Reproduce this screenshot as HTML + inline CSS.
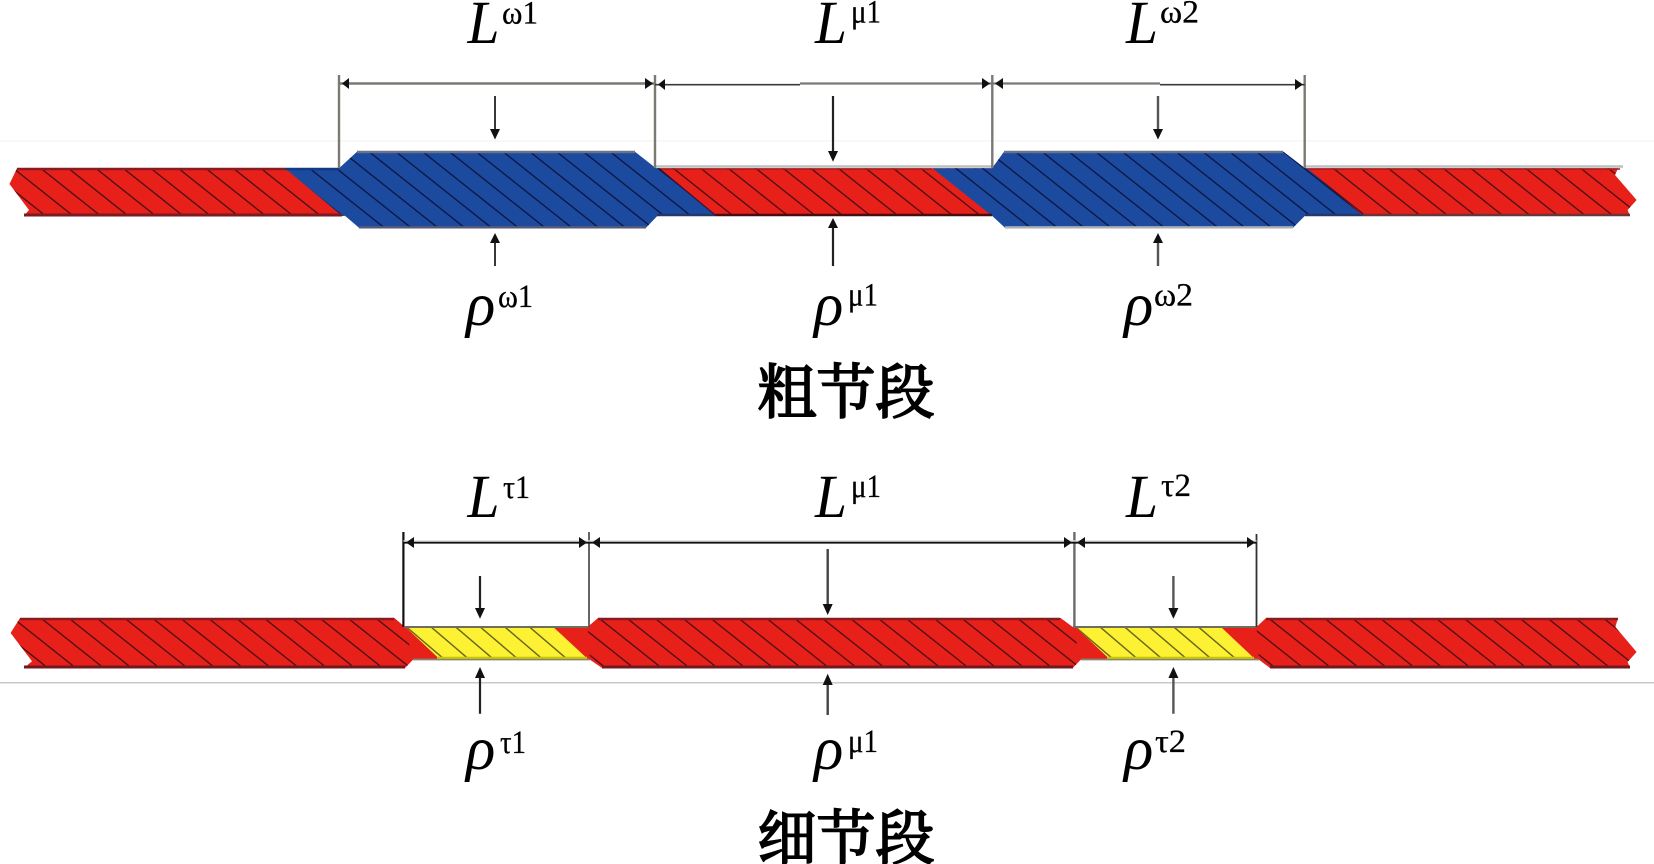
<!DOCTYPE html>
<html><head><meta charset="utf-8"><style>html,body{margin:0;padding:0;background:#fff}svg{display:block}
.L{font:italic 61px "Liberation Serif",serif;fill:#000}
.S{font:33px "Liberation Serif",serif;fill:#000;stroke:#000;stroke-width:.25}
.C{font:400 59px "Noto Serif CJK SC","Liberation Serif",serif;fill:#000;stroke:#000;stroke-width:1.9}
</style></head><body>
<svg width="1654" height="864" viewBox="0 0 1654 864" xmlns="http://www.w3.org/2000/svg">
<defs>
<pattern id="h1" patternUnits="userSpaceOnUse" width="27.5" height="20" patternTransform="translate(39.7 168.3) skewX(51.5)"><rect x="0" y="0" width="2.2" height="20" fill="#1a0a14" fill-opacity=".75"/></pattern>
<pattern id="h2" patternUnits="userSpaceOnUse" width="26.8" height="20" patternTransform="translate(368.3 152) skewX(51.5)"><rect x="0" y="0" width="2.2" height="20" fill="#0a0a30" fill-opacity=".8"/></pattern>
<pattern id="h2b" patternUnits="userSpaceOnUse" width="26.8" height="20" patternTransform="translate(1014.6 152) skewX(51.5)"><rect x="0" y="0" width="2.2" height="20" fill="#0a0a30" fill-opacity=".8"/></pattern>
<pattern id="h3" patternUnits="userSpaceOnUse" width="27.9" height="20" patternTransform="translate(39.7 618) skewX(51.5)"><rect x="0" y="0" width="2.2" height="20" fill="#1a0a14" fill-opacity=".75"/></pattern>
<pattern id="y1" patternUnits="userSpaceOnUse" width="24.6" height="20" patternTransform="translate(430 627) skewX(49.5)"><rect x="0" y="0" width="2.2" height="20" fill="#2a2a10" fill-opacity=".7"/></pattern>
<pattern id="y2" patternUnits="userSpaceOnUse" width="24.6" height="20" patternTransform="translate(1099 627) skewX(49.5)"><rect x="0" y="0" width="2.2" height="20" fill="#2a2a10" fill-opacity=".7"/></pattern>
</defs>
<rect width="1654" height="864" fill="#fff"/>
<rect x="0" y="140.5" width="1654" height="1" fill="#f0f0f0"/>
<rect x="0" y="682" width="1654" height="1.5" fill="#c8c8c8"/>

<!-- top strip -->
<polygon fill="#e8201a" points="17,168.3 656,168.3 1618,168.3 1615,175 1636.6,200 1627.6,210 1630,215.7 24,215.7 29,210 9.5,184"/>
<polygon fill="url(#h1)" points="17,168.3 656,168.3 1618,168.3 1615,175 1636.6,200 1627.6,210 1630,215.7 24,215.7 29,210 9.5,184"/>
<polygon fill="#1b4a9e" points="285,168.3 339,168.3 357,151.7 635,151.7 656,168.3 659,168.3 716,215.7 657.5,215.7 646,227.7 359,227.7 345,215.7 342,215.7"/>
<polygon fill="url(#h2)" points="285,168.3 339,168.3 357,151.7 635,151.7 656,168.3 659,168.3 716,215.7 657.5,215.7 646,227.7 359,227.7 345,215.7 342,215.7"/>
<polygon fill="#1b4a9e" points="932.5,168.3 992,168.3 1004,151.7 1283.5,151.7 1305,168.3 1307,168.3 1363,215.7 1305,215.7 1293,227.7 1005,227.7 992,215.7"/>
<polygon fill="url(#h2b)" points="932.5,168.3 992,168.3 1004,151.7 1283.5,151.7 1305,168.3 1307,168.3 1363,215.7 1305,215.7 1293,227.7 1005,227.7 992,215.7"/>
<g fill="none" stroke-width="2.4">
<path d="M17 169H285" stroke="#8a1a20"/>
<path d="M24 215H342" stroke="#7e1a22" stroke-width="3"/>
<path d="M285 169H339" stroke="#123a80"/>
<path d="M357 152H635M1004 152H1283" stroke="#6a7488"/>
<path d="M359 227.3H646" stroke="#555a78"/>
<path d="M1005 227.3H1293" stroke="#a9acb4"/>
<path d="M656 166.5H992M1305 166.5H1623" stroke="#bdbdbd"/>
<path d="M660 169H932M1307 169H1620" stroke="#a01c20" stroke-width="1.6"/>
<path d="M716 215H992" stroke="#4a0c10"/>
<path d="M1363 215H1630" stroke="#6b3438"/>
<path d="M657 215H716M1305 215H1363" stroke="#24386e"/>
<path d="M659 168.3L716 215.7" stroke="#3a1030" stroke-width="1.2"/>
</g>

<!-- bottom strip -->
<polygon fill="#e8201a" points="20,618 394.4,618 405,627 587.6,627 598,618 1060.6,618 1072.8,627 1256.5,627 1266,618 1618,618 1615.4,627 1636.6,652 1627.6,662 1630,668 1270,668 1259,659.7 1080.7,659.7 1072.8,668 602,668 590,659.7 413,659.7 405,668 24,668 32,661.3 10.6,633"/>
<polygon fill="url(#h3)" points="20,618 394.4,618 405,627 587.6,627 598,618 1060.6,618 1072.8,627 1256.5,627 1266,618 1618,618 1615.4,627 1636.6,652 1627.6,662 1630,668 1270,668 1259,659.7 1080.7,659.7 1072.8,668 602,668 590,659.7 413,659.7 405,668 24,668 32,661.3 10.6,633"/>
<polygon fill="#e8201a" points="405,627 587.6,627 590,659.7 413,659.7"/>
<polygon fill="#e8201a" points="1072.8,627 1256.5,627 1259,659.7 1080.7,659.7"/>
<polygon fill="#fdf133" points="405.5,627 553.3,627 588.3,659.5 440,659.5"/>
<polygon fill="url(#y1)" points="405.5,627 553.3,627 588.3,659.5 440,659.5"/>
<polygon fill="#fdf133" points="1075.5,627 1221,627 1255.4,659.5 1110,659.5"/>
<polygon fill="url(#y2)" points="1075.5,627 1221,627 1255.4,659.5 1110,659.5"/>
<g fill="none" stroke-width="2.4">
<path d="M20 619H394M598 619H1060M1266 619H1618" stroke="#8a1a20"/>
<path d="M24 667H405M602 667H1073M1270 667H1630" stroke="#741820" stroke-width="3"/>
<path d="M405 627H588M1073 627H1257" stroke="#6e6e5a" stroke-width="2"/>
<path d="M413 659.5H590M1081 659.5H1259" stroke="#858570" stroke-width="1.8"/>
<path d="M437 657.8H587M1107 657.8H1254" stroke="#c9c400" stroke-width="2.2"/>
</g>

<!-- dimension lines top -->
<g stroke="#7c7873" stroke-width="2.4" fill="none">
<path d="M339 75V168M655 75V168M992.3 75V168M1304.7 75V168"/>
<path d="M339 83.5H655" stroke-width="2.6"/>
<path d="M655 84.7H800" stroke="#3a3a3a" stroke-width="1.6"/>
<path d="M800 83.5H1160" stroke-width="2.2"/>
<path d="M1160 84.7H1304.7" stroke="#3a3a3a" stroke-width="1.6"/>
</g>
<g fill="#111">
<polygon points="342,83.5 349,78 349,89"/><polygon points="653,83.5 645,78 645,89"/>
<polygon points="658,84.5 665,79 665,90"/><polygon points="990,83.5 982,78 982,89"/>
<polygon points="995,83.5 1003,78 1003,89"/><polygon points="1303,84.5 1295,79 1295,90"/>
</g>
<!-- dimension lines bottom -->
<g stroke="#111" stroke-width="1.8" fill="none">
<path d="M403.4 532V627" stroke-width="2.2"/>
<path d="M589 532V627" stroke="#555"/>
<path d="M1074.4 532V627" stroke="#6a6a6a" stroke-width="2.4"/>
<path d="M1256.5 534V627" stroke="#333"/>
<path d="M403.4 541H1256.5" stroke="#ddd" stroke-width="1.5"/>
<path d="M403.4 542.7H1256.5"/>
</g>
<g fill="#111">
<polygon points="406,542.5 414,537 414,548"/><polygon points="587,542.5 579,537 579,548"/>
<polygon points="592,542.5 600,537 600,548"/><polygon points="1072,542.5 1064,537 1064,548"/>
<polygon points="1077,542.5 1085,537 1085,548"/><polygon points="1255,542.5 1247,537 1247,548"/>
</g>

<!-- thickness arrows -->
<g stroke="#222" stroke-width="1.8" fill="none">
<path d="M495 96V135M495 237V266"/>
<path d="M833 96V155M833 224V266" stroke-width="2.2"/>
<path d="M1158 96V135M1158 237V266" stroke="#555" stroke-width="2.4"/>
<path d="M480 576V613M480 673V713.7" stroke-width="2.2"/>
<path d="M827.7 549V610M827.7 679V715" stroke="#444" stroke-width="2.4"/>
<path d="M1173.4 576V613M1173.4 673V713.7" stroke="#555" stroke-width="2.4"/>
</g>
<g fill="#111">
<polygon points="495,139.5 490,129 500,129"/><polygon points="495,233 490,243 500,243"/>
<polygon points="833,161.7 828,151 838,151"/><polygon points="833,218 828,228 838,228"/>
<polygon points="1158,139.5 1153,129 1163,129"/><polygon points="1158,233 1153,243 1163,243"/>
<polygon points="480,618.7 475,608 485,608"/><polygon points="480,667 475,678 485,678"/>
<polygon points="827.7,615 822.7,604 832.7,604"/><polygon points="827.7,673.7 822.7,685 832.7,685"/>
<polygon points="1173.4,618.7 1168.4,608 1178.4,608"/><polygon points="1173.4,667 1168.4,678 1178.4,678"/>
</g>

<!-- labels -->
<text class="L" x="467.5" y="43" textLength="32" lengthAdjust="spacingAndGlyphs">L</text><text class="S" x="502" y="23.5" textLength="36" lengthAdjust="spacingAndGlyphs">ω1</text>
<text class="L" x="815" y="43" textLength="32" lengthAdjust="spacingAndGlyphs">L</text><text class="S" x="851" y="22.5" textLength="30" lengthAdjust="spacingAndGlyphs">μ1</text>
<text class="L" x="1126" y="43" textLength="32" lengthAdjust="spacingAndGlyphs">L</text><text class="S" x="1160" y="22.5" textLength="39" lengthAdjust="spacingAndGlyphs">ω2</text>
<text class="L" x="466" y="325">ρ</text><text class="S" x="498" y="307" textLength="35" lengthAdjust="spacingAndGlyphs">ω1</text>
<text class="L" x="814" y="325">ρ</text><text class="S" x="848" y="305.5" textLength="30" lengthAdjust="spacingAndGlyphs">μ1</text>
<text class="L" x="1124" y="325">ρ</text><text class="S" x="1154" y="305.5" textLength="39" lengthAdjust="spacingAndGlyphs">ω2</text>
<text class="C" x="757.5" y="413">粗节段</text>

<text class="L" x="467.5" y="517" textLength="32" lengthAdjust="spacingAndGlyphs">L</text><text class="S" x="503" y="498" textLength="27" lengthAdjust="spacingAndGlyphs">τ1</text>
<text class="L" x="815" y="517" textLength="32" lengthAdjust="spacingAndGlyphs">L</text><text class="S" x="851" y="497" textLength="30" lengthAdjust="spacingAndGlyphs">μ1</text>
<text class="L" x="1126" y="517" textLength="32" lengthAdjust="spacingAndGlyphs">L</text><text class="S" x="1161" y="496" textLength="30" lengthAdjust="spacingAndGlyphs">τ2</text>
<text class="L" x="466" y="769">ρ</text><text class="S" x="500" y="753" textLength="26" lengthAdjust="spacingAndGlyphs">τ1</text>
<text class="L" x="814" y="769">ρ</text><text class="S" x="848" y="752" textLength="30" lengthAdjust="spacingAndGlyphs">μ1</text>
<text class="L" x="1124" y="769">ρ</text><text class="S" x="1155" y="752" textLength="31" lengthAdjust="spacingAndGlyphs">τ2</text>
<text class="C" x="757.5" y="859">细节段</text>
</svg>
</body></html>
